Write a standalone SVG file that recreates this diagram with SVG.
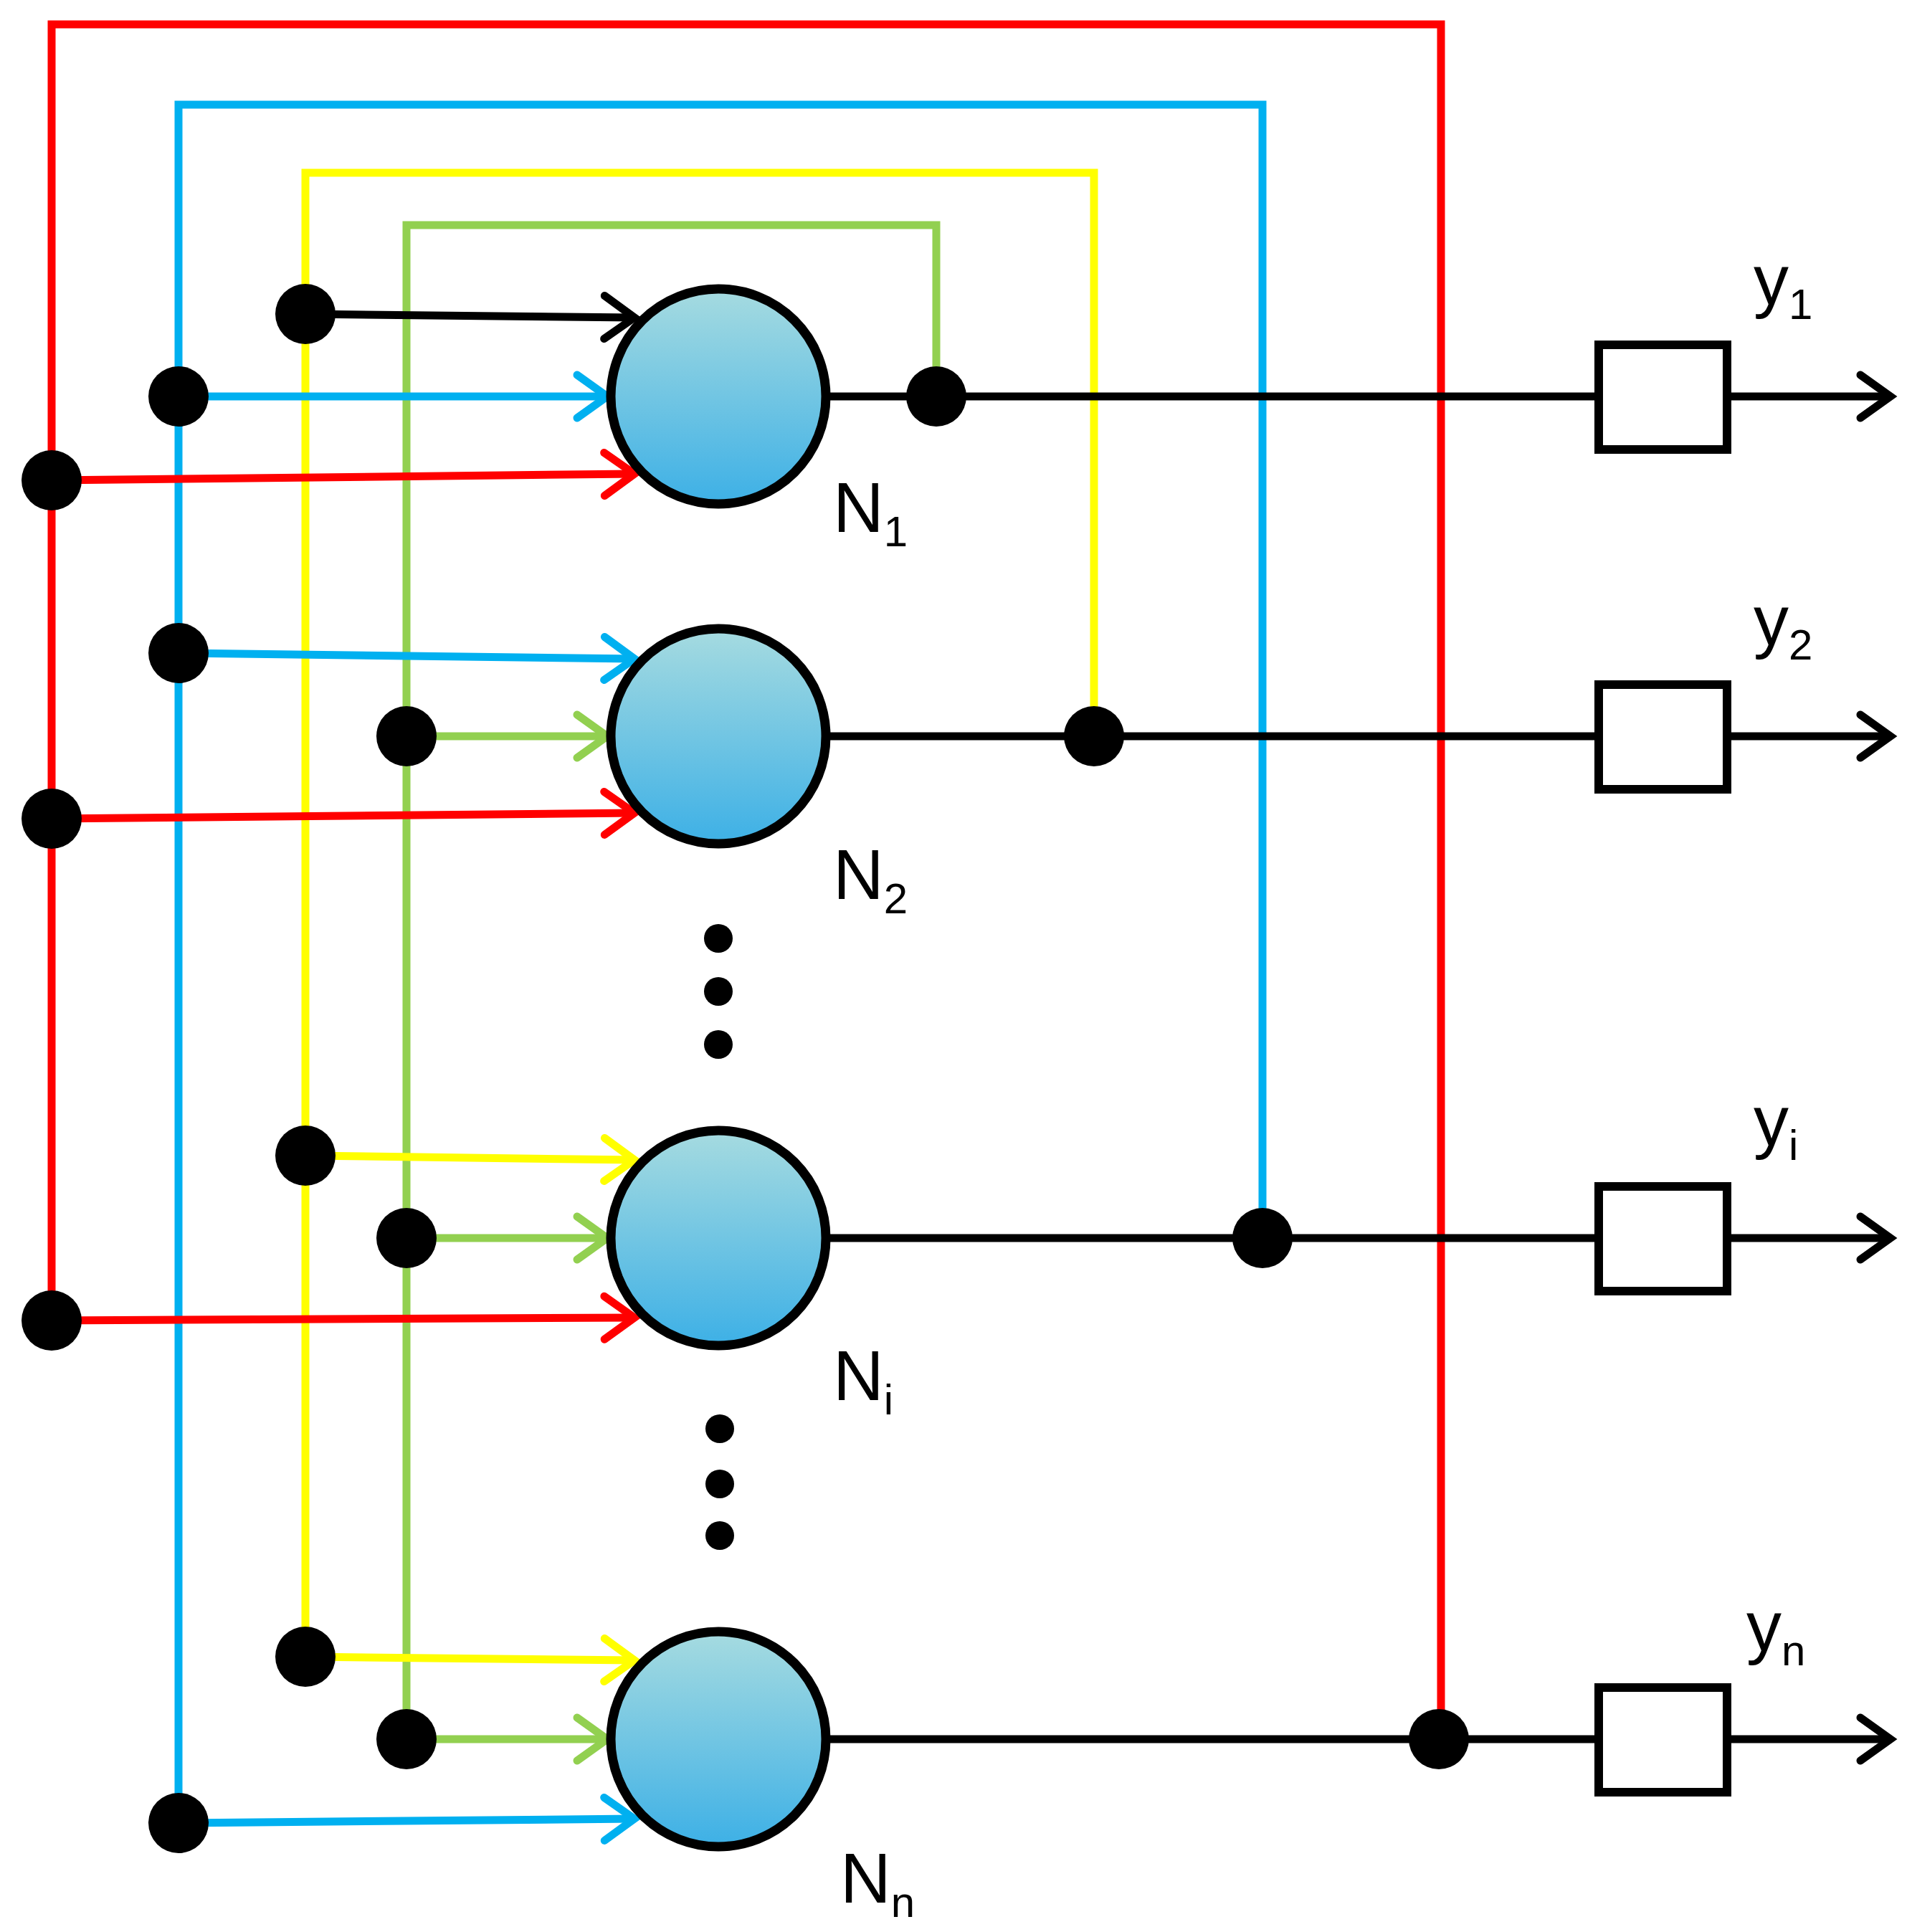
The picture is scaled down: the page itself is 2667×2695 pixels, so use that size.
<svg xmlns="http://www.w3.org/2000/svg" width="2667" height="2695" viewBox="0 0 2667 2695">
<style>
.w{fill:none;stroke-width:11}
.r{stroke:#ff0000}.b{stroke:#00b0f0}.yl{stroke:#ffff00}.g{stroke:#92d050}.k{stroke:#000}
.node{fill:url(#grad);stroke:#000;stroke-width:13}
.dot{fill:#000}
.box{fill:#fff;stroke:#000;stroke-width:12}
.lbl{font-family:"Liberation Sans",Arial,sans-serif;font-size:98px;fill:#000}
.sub{font-size:60px}
</style>
<defs>
<linearGradient id="grad" x1="0" y1="0" x2="0" y2="1"><stop offset="0" stop-color="#a6dbe0"/><stop offset="1" stop-color="#3db0e6"/></linearGradient>
<marker id="ar" markerUnits="userSpaceOnUse" markerWidth="70" markerHeight="80" refX="50" refY="40" orient="auto"><path d="M8,10 L50,40 L8,70" fill="none" stroke="#ff0000" stroke-width="11" stroke-linecap="round"/></marker>
<marker id="ab" markerUnits="userSpaceOnUse" markerWidth="70" markerHeight="80" refX="50" refY="40" orient="auto"><path d="M8,10 L50,40 L8,70" fill="none" stroke="#00b0f0" stroke-width="11" stroke-linecap="round"/></marker>
<marker id="ay" markerUnits="userSpaceOnUse" markerWidth="70" markerHeight="80" refX="50" refY="40" orient="auto"><path d="M8,10 L50,40 L8,70" fill="none" stroke="#ffff00" stroke-width="11" stroke-linecap="round"/></marker>
<marker id="ag" markerUnits="userSpaceOnUse" markerWidth="70" markerHeight="80" refX="50" refY="40" orient="auto"><path d="M8,10 L50,40 L8,70" fill="none" stroke="#92d050" stroke-width="11" stroke-linecap="round"/></marker>
<marker id="ak" markerUnits="userSpaceOnUse" markerWidth="70" markerHeight="80" refX="50" refY="40" orient="auto"><path d="M8,10 L50,40 L8,70" fill="none" stroke="#000" stroke-width="11" stroke-linecap="round"/></marker>
</defs>
<g id="connectors">
<path class="w r" d="M72,1842 V34 H2010 V2426"/>
<path class="w b" d="M249,2543 V146 H1761 V1727"/>
<path class="w yl" d="M426,2311 V241 H1526 V1027"/>
<path class="w g" d="M567,2426 V314 H1306 V553"/>
<path class="w k" d="M1156,553 H2230 M1156,1027 H2230 M1156,1727 H2230 M1156,2426 H2230"/>
<path class="w k" marker-end="url(#ak)" d="M2409,553 H2637"/>
<path class="w k" marker-end="url(#ak)" d="M2409,1027 H2637"/>
<path class="w k" marker-end="url(#ak)" d="M2409,1727 H2637"/>
<path class="w k" marker-end="url(#ak)" d="M2409,2426 H2637"/>
<path class="w k" marker-end="url(#ak)" d="M426,438 L885,443"/>
<path class="w b" marker-end="url(#ab)" d="M249,553 L847,553"/>
<path class="w r" marker-end="url(#ar)" d="M72,670 L885,661"/>
<path class="w b" marker-end="url(#ab)" d="M249,911 L885,919"/>
<path class="w g" marker-end="url(#ag)" d="M567,1027 L847,1027"/>
<path class="w r" marker-end="url(#ar)" d="M72,1142 L885,1134"/>
<path class="w yl" marker-end="url(#ay)" d="M426,1612 L885,1618"/>
<path class="w g" marker-end="url(#ag)" d="M567,1727 L847,1727"/>
<path class="w r" marker-end="url(#ar)" d="M72,1842 L885,1838"/>
<path class="w yl" marker-end="url(#ay)" d="M426,2311 L885,2316"/>
<path class="w g" marker-end="url(#ag)" d="M567,2426 L847,2426"/>
<path class="w b" marker-end="url(#ab)" d="M249,2543 L885,2537"/>
<g class="dot">
<circle cx="426" cy="438" r="42"/><circle cx="249" cy="553" r="42"/><circle cx="72" cy="670" r="42"/>
<circle cx="249" cy="911" r="42"/><circle cx="567" cy="1027" r="42"/><circle cx="72" cy="1142" r="42"/>
<circle cx="426" cy="1612" r="42"/><circle cx="567" cy="1727" r="42"/><circle cx="72" cy="1842" r="42"/>
<circle cx="426" cy="2311" r="42"/><circle cx="567" cy="2426" r="42"/><circle cx="249" cy="2543" r="42"/>
<circle cx="1306" cy="553" r="42"/><circle cx="1526" cy="1027" r="42"/><circle cx="1761" cy="1727" r="42"/><circle cx="2007" cy="2426" r="42"/>
</g>
</g>
<g id="ellipsis" class="dot">
<circle cx="1002" cy="1309" r="20"/><circle cx="1002" cy="1383" r="20"/><circle cx="1002" cy="1457" r="20"/>
<circle cx="1004" cy="1993" r="20"/><circle cx="1004" cy="2070" r="20"/><circle cx="1004" cy="2142" r="20"/>
</g>
<g id="N1"><circle class="node" cx="1002" cy="553" r="150"/><text class="lbl" x="1162" y="742">N<tspan class="sub" dy="20">1</tspan></text></g>
<g id="N2"><circle class="node" cx="1002" cy="1027" r="150"/><text class="lbl" x="1162" y="1254">N<tspan class="sub" dy="20">2</tspan></text></g>
<g id="Ni"><circle class="node" cx="1002" cy="1727" r="150"/><text class="lbl" x="1162" y="1953">N<tspan class="sub" dy="20">i</tspan></text></g>
<g id="Nn"><circle class="node" cx="1002" cy="2426" r="150"/><text class="lbl" x="1172" y="2654">N<tspan class="sub" dy="20">n</tspan></text></g>
<g id="Y1"><rect class="box" x="2230" y="481" width="179" height="146"/><text class="lbl" x="2446" y="425">y<tspan class="sub" dy="20">1</tspan></text></g>
<g id="Y2"><rect class="box" x="2230" y="955" width="179" height="146"/><text class="lbl" x="2446" y="900">y<tspan class="sub" dy="20">2</tspan></text></g>
<g id="Yi"><rect class="box" x="2230" y="1655" width="179" height="146"/><text class="lbl" x="2446" y="1598">y<tspan class="sub" dy="20">i</tspan></text></g>
<g id="Yn"><rect class="box" x="2230" y="2354" width="179" height="146"/><text class="lbl" x="2436" y="2303">y<tspan class="sub" dy="20">n</tspan></text></g>
</svg>
